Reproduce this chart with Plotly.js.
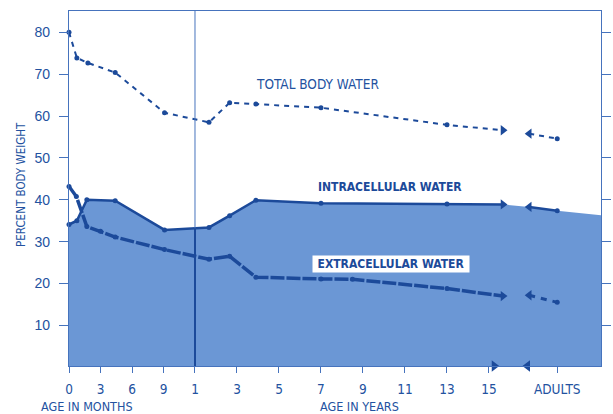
<!DOCTYPE html>
<html>
<head>
<meta charset="utf-8">
<script src="https://cdn.plot.ly/plotly-3.0.1.min.js"></script>
<style>html,body{margin:0;padding:0;background:#fff;}#chart{width:613px;height:414px;}</style>
</head>
<body>
<div id="chart"></div>
<script>
// ---- data (ages in months; values in % body weight) ----
const tickMonths = [0, 3, 6, 9, 12, 36, 60, 84, 108, 132, 156, 180, 219];
const tickLabels = ['0', '3', '6', '9', '1', '3', '5', '7', '9', '11', '13', '15', 'ADULTS'];

const tbwMonths = [0, 0.75, 1.8, 4.4, 9.1, 20, 31.8, 46.8, 84, 156, 188];
const tbwValues = [80, 73.9, 72.7, 70.4, 60.8, 58.5, 63.2, 62.9, 62.0, 57.9, 56.6];
const tbwAdultMonths = [203, 219];
const tbwAdultValues = [55.8, 54.6];

const icMonths = [0, 0.75, 1.7, 4.4, 9.1, 20, 31.8, 46.8, 84, 156, 188];
const icValues = [34.1, 35.0, 40.0, 39.8, 32.8, 33.4, 36.2, 39.9, 39.2, 39.0, 38.9];
const icAdultMonths = [203, 219];
const icAdultValues = [38.3, 37.4];
const icEdgeValue = [36.3];

const ecMonths = [0, 0.7, 1.7, 3, 4.4, 9.1, 20, 31.8, 46.8, 84, 102, 156, 188];
const ecValues = [43.2, 40.8, 33.6, 32.5, 31.1, 28.1, 25.8, 26.5, 21.5, 21.1, 21.0, 18.8, 17.0];
const ecAdultMonths = [203, 219];
const ecAdultValues = [17.2, 15.5];

const axisBreakMonths = [183, 202];

// ---- scale helpers ----
function toAxis(m) { return m <= 12 ? m : 12 + (m - 12) / 6; }
const mapX = arr => arr.map(toAxis);

const XR = [0, 50.67];
const YR = [0.3, 85.1];
const DARK = '#1c4a9a';
const TEXT = '#23529f';
const FRAME = '#4673bd';
const FILL = '#6b97d5';
const COND = '"DejaVu Sans Condensed", "Liberation Sans Narrow", sans-serif';
const SANS = '"Liberation Sans", Arial, sans-serif';

const last = a => a[a.length - 1];

function series(months, values, aMonths, aValues, line1, line2) {
  const out = [];
  out.push({x: mapX(months), y: values, mode: 'lines', line: line1, hoverinfo: 'skip', cliponaxis: false});
  out.push({x: mapX(months.slice(0, -1)), y: values.slice(0, -1), mode: 'markers',
    marker: {symbol: 'circle', size: 5, color: DARK}, hoverinfo: 'skip', cliponaxis: false});
  out.push({x: [toAxis(last(months))], y: [last(values)], mode: 'markers',
    marker: {symbol: 'triangle-right', size: 9, color: DARK}, hoverinfo: 'skip', cliponaxis: false});
  out.push({x: mapX(aMonths), y: aValues, mode: 'lines', line: line2, hoverinfo: 'skip'});
  out.push({x: [toAxis(aMonths[0])], y: [aValues[0]], mode: 'markers',
    marker: {symbol: 'triangle-left', size: 9, color: DARK}, hoverinfo: 'skip'});
  out.push({x: [toAxis(last(aMonths))], y: [last(aValues)], mode: 'markers',
    marker: {symbol: 'circle', size: 5, color: DARK}, hoverinfo: 'skip'});
  return out;
}

const fillTrace = {
  x: mapX(icMonths).concat(mapX(icAdultMonths), [XR[1]]),
  y: icValues.concat(icAdultValues, icEdgeValue),
  mode: 'lines', fill: 'tozeroy', fillcolor: FILL, line: {width: 0}, hoverinfo: 'skip'
};

// interpolated intracellular value at 1 year, for the darker part of the divider line
function interp(xs, ys, x) {
  for (let i = 0; i < xs.length - 1; i++) {
    if (x >= xs[i] && x <= xs[i + 1]) return ys[i] + (ys[i + 1] - ys[i]) * (x - xs[i]) / (xs[i + 1] - xs[i]);
  }
  return ys[0];
}
const icAtYear = interp(mapX(icMonths), icValues, 12);

const traces = [fillTrace]
  .concat(series(tbwMonths, tbwValues, tbwAdultMonths, tbwAdultValues,
    {color: DARK, width: 2, dash: '5px,5px'}, {color: DARK, width: 2, dash: '5px,5px'}))
  .concat(series(icMonths, icValues, icAdultMonths, icAdultValues,
    {color: DARK, width: 2.5}, {color: DARK, width: 2.5}))
  .concat(series(ecMonths, ecValues, ecAdultMonths, ecAdultValues,
    {color: DARK, width: 3.5, dash: '14px,2px'}, {color: DARK, width: 3, dash: '6px,6px'}));

traces.push({x: [toAxis(axisBreakMonths[0])], y: [YR[0]], mode: 'markers',
  marker: {symbol: 'triangle-right', size: 10, color: DARK}, cliponaxis: false, hoverinfo: 'skip'});
traces.push({x: [toAxis(axisBreakMonths[1])], y: [YR[0]], mode: 'markers',
  marker: {symbol: 'triangle-left', size: 10, color: DARK}, cliponaxis: false, hoverinfo: 'skip'});

const layout = {
  width: 613, height: 414,
  margin: {l: 69, r: 12, t: 11, b: 48},
  paper_bgcolor: '#ffffff', plot_bgcolor: '#ffffff',
  showlegend: false,
  xaxis: {
    range: XR, tickmode: 'array', tickvals: tickMonths.map(toAxis), ticktext: tickLabels,
    ticks: 'outside', ticklen: 6, tickcolor: FRAME, tickwidth: 1,
    showline: true, linecolor: FRAME, linewidth: 1.2, mirror: true,
    showgrid: false, zeroline: false, ticklabelstandoff: 5,
    tickfont: {family: COND, size: 13.5, color: TEXT}
  },
  yaxis: {
    range: YR, tickvals: [10, 20, 30, 40, 50, 60, 70, 80],
    ticks: 'outside', ticklen: 9, tickcolor: FRAME, tickwidth: 1,
    showline: true, linecolor: FRAME, linewidth: 1.2, mirror: 'ticks',
    showgrid: false, zeroline: false, ticklabelstandoff: 6,
    tickfont: {family: SANS, size: 14, color: TEXT}
  },
  shapes: [
    {type: 'line', xref: 'x', yref: 'paper', x0: 12, x1: 12, y0: 0, y1: 1, line: {color: FRAME, width: 1}},
    {type: 'line', xref: 'x', yref: 'y', x0: 12, x1: 12, y0: YR[0], y1: icAtYear, line: {color: DARK, width: 2}}
  ],
  annotations: [
    {text: 'TOTAL BODY WATER', xref: 'x', yref: 'y', x: 23.7, y: 67.7, showarrow: false,
      font: {family: COND, size: 13.5, color: TEXT}},
    {text: '<b>INTRACELLULAR WATER</b>', xref: 'x', yref: 'y', x: 30.6, y: 43, showarrow: false,
      font: {family: COND, size: 12, color: DARK}},
    {text: '<b>EXTRACELLULAR WATER</b>', xref: 'x', yref: 'y', x: 30.7, y: 24.7, showarrow: false,
      bgcolor: '#ffffff', borderpad: 2, width: 152, height: 12, font: {family: COND, size: 12, color: DARK}},
    {text: 'AGE IN MONTHS', xref: 'paper', yref: 'paper', x: (39 - 69) / 532, y: (366 - 406) / 355,
      xanchor: 'left', yanchor: 'middle', showarrow: false, font: {family: COND, size: 12.5, color: TEXT}},
    {text: 'AGE IN YEARS', xref: 'paper', yref: 'paper', x: (318 - 69) / 532, y: (366 - 406) / 355,
      xanchor: 'left', yanchor: 'middle', showarrow: false, font: {family: COND, size: 12.5, color: TEXT}},
    {text: 'PERCENT BODY WEIGHT', xref: 'paper', yref: 'paper', x: (21 - 69) / 532, y: (366 - 185) / 355,
      xanchor: 'center', yanchor: 'middle', textangle: -90, showarrow: false,
      font: {family: COND, size: 11.5, color: TEXT}}
  ]
};

Plotly.newPlot('chart', traces, layout, {staticPlot: true, displayModeBar: false});
</script>
</body>
</html>
